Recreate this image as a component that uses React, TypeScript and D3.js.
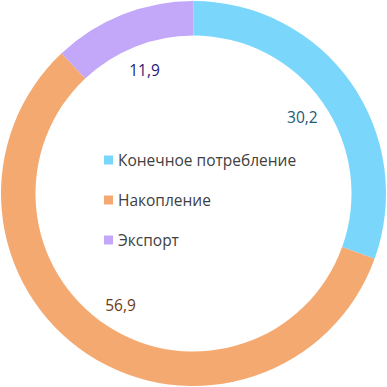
import React from "react";
import * as d3 from "d3";

const categories = ["Конечное потребление", "Накопление", "Экспорт"];
const values = [30.2, 56.9, 11.9];
const valueLabels = ["30,2", "56,9", "11,9"];
const colors = ["#7AD7FB", "#F4A971", "#C3A7F8"];
const labelColors = ["#1D5A75", "#6E3A16", "#26177A"];

const W = 387;
const H = 387;

export default function App() {
  const cx = 193.5;
  const cy = 193.5;
  const outerR = 192.5;
  const innerR = 158;
  const labelR = 133;

  const pie = d3.pie<number>().sort(null).value((d) => d)(values);
  const arc = d3.arc<d3.PieArcDatum<number>>().innerRadius(innerR).outerRadius(outerR);
  const labelArc = d3.arc<d3.PieArcDatum<number>>().innerRadius(labelR).outerRadius(labelR);

  const legendX = 104;
  const legendY0 = 160;
  const legendStep = 40;

  return (
    <svg
      width={W}
      height={H}
      style={{ position: "absolute", left: 0, top: 0 }}
      fontFamily="'Open Sans', sans-serif"
    >
      <rect width={W} height={H} fill="#ffffff" />
      <g transform={`translate(${cx},${cy})`}>
        {pie.map((p, i) => (
          <path key={i} d={arc(p) || ""} fill={colors[i]} />
        ))}
        {pie.map((p, i) => {
          const [x, y] = labelArc.centroid(p);
          return (
            <text
              key={"l" + i}
              x={x}
              y={y}
              textAnchor="middle"
              dominantBaseline="central"
              fontSize={15.5}
              fill={labelColors[i]}
            >
              {valueLabels[i]}
            </text>
          );
        })}
      </g>
      {categories.map((c, i) => (
        <g key={"lg" + i} transform={`translate(${legendX},${legendY0 + i * legendStep})`}>
          <rect x={0} y={-4.5} width={9} height={9} fill={colors[i]} />
          <text x={14} y={0} dominantBaseline="central" fontSize={15.5} fill="#404040">
            {c}
          </text>
        </g>
      ))}
    </svg>
  );
}
